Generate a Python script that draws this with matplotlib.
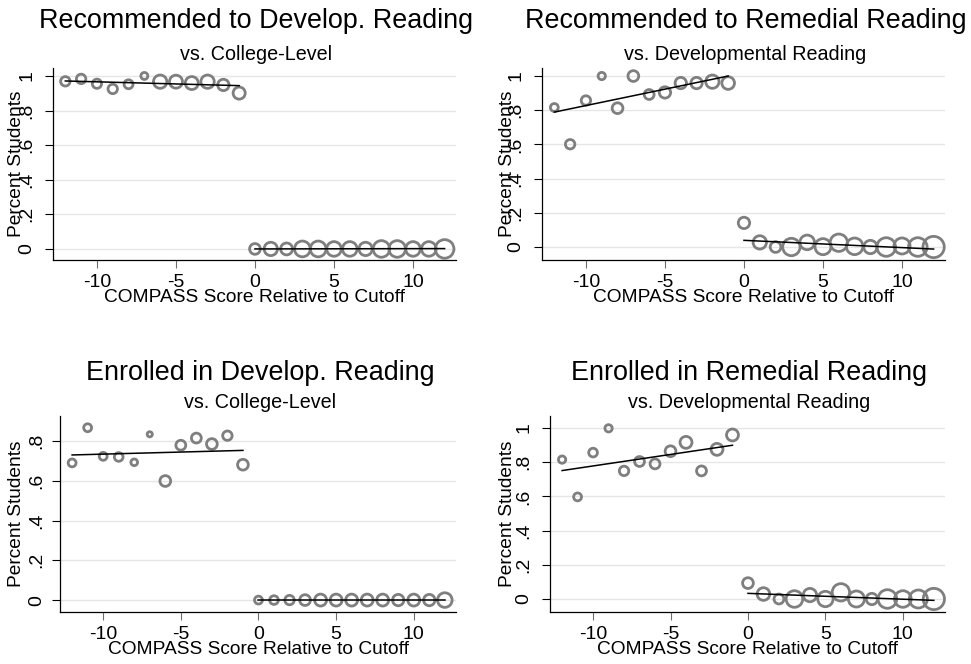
import numpy as np
import matplotlib
matplotlib.use("Agg")
import matplotlib.pyplot as plt

plt.rcParams.update({"font.family": ["Liberation Sans", "DejaVu Sans"],
                     "axes.unicode_minus": False})

# ---------------- datos ----------------
x_izq = [-12, -11, -10, -9, -8, -7, -6, -5, -4, -3, -2, -1]
x_der = [0, 1, 2, 3, 4, 5, 6, 7, 8, 9, 10, 11, 12]

# Panel 1: Recommended to Develop. Reading vs. College-Level
p1_izq = [0.969, 0.983, 0.955, 0.925, 0.952, 1.0, 0.967, 0.967, 0.959, 0.967, 0.948, 0.901]
p1_der = [0, 0, 0, 0, 0, 0, 0, 0, 0, 0, 0, 0, 0]
w1_izq = [200, 200, 190, 200, 180, 110, 400, 380, 380, 400, 290, 330]
w1_der = [260, 400, 320, 560, 560, 480, 480, 400, 620, 620, 480, 480, 780]
fit1_izq = [0.971, 0.944]
fit1_der = [0.0, 0.002]

# Panel 2: Recommended to Remedial Reading vs. Developmental Reading
p2_izq = [0.816, 0.601, 0.857, 1.0, 0.812, 1.0, 0.892, 0.904, 0.959, 0.959, 0.967, 0.959]
p2_der = [0.141, 0.027, 0.0, 0.0, 0.027, 0.002, 0.025, 0.004, 0.0, 0.0, 0.006, 0.0, 0.0]
w2_izq = [140, 200, 200, 120, 260, 260, 220, 290, 290, 290, 400, 360]
w2_der = [290, 400, 260, 680, 480, 580, 680, 620, 400, 780, 580, 780, 1020]
fit2_izq = [0.789, 1.0]
fit2_der = [0.039, -0.012]

# Panel 3: Enrolled in Develop. Reading vs. College-Level
p3_izq = [0.690, 0.867, 0.723, 0.720, 0.693, 0.834, 0.599, 0.779, 0.815, 0.785, 0.827, 0.681]
p3_der = [0, 0, 0, 0, 0, 0, 0, 0, 0, 0, 0, 0, 0]
w3_izq = [140, 140, 140, 170, 100, 60, 260, 220, 220, 260, 200, 260]
w3_der = [140, 170, 200, 260, 320, 320, 320, 320, 320, 290, 320, 290, 480]
fit3_izq = [0.730, 0.753]
fit3_der = [0.0, 0.0]

# Panel 4: Enrolled in Remedial Reading vs. Developmental Reading
p4_izq = [0.815, 0.597, 0.856, 0.998, 0.749, 0.804, 0.790, 0.864, 0.916, 0.749, 0.875, 0.959]
p4_der = [0.093, 0.029, 0.0, 0.0, 0.023, 0.0, 0.039, 0.0, 0.0, 0.0, 0.0, 0.0, 0.0]
w4_izq = [120, 140, 170, 120, 200, 220, 220, 260, 320, 220, 320, 320]
w4_der = [260, 360, 220, 620, 400, 530, 680, 580, 290, 780, 620, 730, 1020]
fit4_izq = [0.751, 0.899]
fit4_der = [0.033, -0.008]

titulos = ["Recommended to Develop. Reading", "Recommended to Remedial Reading",
           "Enrolled in Develop. Reading", "Enrolled in Remedial Reading"]
subtitulos = ["vs. College-Level", "vs. Developmental Reading",
              "vs. College-Level", "vs. Developmental Reading"]
yticks_12 = [0, 0.2, 0.4, 0.6, 0.8, 1]
yticks_3 = [0, 0.2, 0.4, 0.6, 0.8]
xticks = [-10, -5, 0, 5, 10]

paneles = [
    (p1_izq, p1_der, w1_izq, w1_der, fit1_izq, fit1_der, yticks_12),
    (p2_izq, p2_der, w2_izq, w2_der, fit2_izq, fit2_der, yticks_12),
    (p3_izq, p3_der, w3_izq, w3_der, fit3_izq, fit3_der, yticks_3),
    (p4_izq, p4_der, w4_izq, w4_der, fit4_izq, fit4_der, yticks_12),
]

# ---------------- layout (pixeles de la figura 971x664) ----------------
W, H = 971, 664
cajas = [(53, 456, 68, 260), (542, 945, 68, 260), (60, 456, 416, 612), (550, 945, 416, 612)]
ylims = [(-0.064, 1.046), (-0.076, 1.047), (-0.060, 0.926), (-0.076, 1.070)]
tit_y = [(28, 60), (28, 60), (380, 408), (380, 408)]
ylab_x = [17, 507, 17, 507]
GRIS = "#7f7f7f"

fig = plt.figure(figsize=(W / 100, H / 100), dpi=100)
for i, (yi, yd, wi, wd, fi, fd, yt) in enumerate(paneles):
    l, r, t, b = cajas[i]
    ax = fig.add_axes([l / W, 1 - b / H, (r - l) / W, (b - t) / H])
    ax.set_xlim(-12.78, 12.72)
    ax.set_ylim(*ylims[i])
    for v in yt:
        ax.axhline(v, color="#e6e6e6", lw=1.0, zorder=0)
    ax.scatter(x_izq, yi, s=np.array(wi) * 0.23, facecolors="none",
               edgecolors=GRIS, linewidths=2.0, zorder=2, clip_on=False)
    ax.scatter(x_der, yd, s=np.array(wd) * 0.23, facecolors="none",
               edgecolors=GRIS, linewidths=2.0, zorder=2, clip_on=False)
    ax.plot([x_izq[0], x_izq[-1]], fi, color="black", lw=1.1, zorder=3)
    ax.plot([x_der[0], x_der[-1]], fd, color="black", lw=1.1, zorder=3)

    ax.set_xticks(xticks)
    ax.set_xticklabels([str(v) for v in xticks])
    ax.set_yticks(yt)
    ax.set_yticklabels(["0" if v == 0 else ("1" if v == 1 else f"{v:.1f}".lstrip("0"))
                        for v in yt], rotation=90, va="center")
    ax.tick_params(axis="both", labelsize=14, length=5.8, width=0.8,
                   colors="black", direction="out")
    ax.tick_params(axis="x", pad=4, color="#6e6e6e")
    ax.tick_params(axis="y", pad=7 if i != 2 else 5)
    for s in ("top", "right"):
        ax.spines[s].set_visible(False)
    for s in ("left", "bottom"):
        ax.spines[s].set_linewidth(0.9)
    ax.set_xlabel("COMPASS Score Relative to Cutoff", fontsize=13.8, labelpad=-1)
    ax.set_ylabel("Percent Students", fontsize=13.8)
    ax.yaxis.set_label_coords((ylab_x[i] - l) / (r - l), 0.5)
    ax.yaxis.label.set_va("center")

    cx = (l + r) / 2 + 2
    fig.text(cx / W, 1 - tit_y[i][0] / H, titulos[i], ha="center", va="baseline",
             fontsize=19.4)
    fig.text(cx / W, 1 - tit_y[i][1] / H, subtitulos[i], ha="center", va="baseline",
             fontsize=14.2)

fig.savefig("out.png", dpi=100, facecolor="white")
plt.close(fig)
